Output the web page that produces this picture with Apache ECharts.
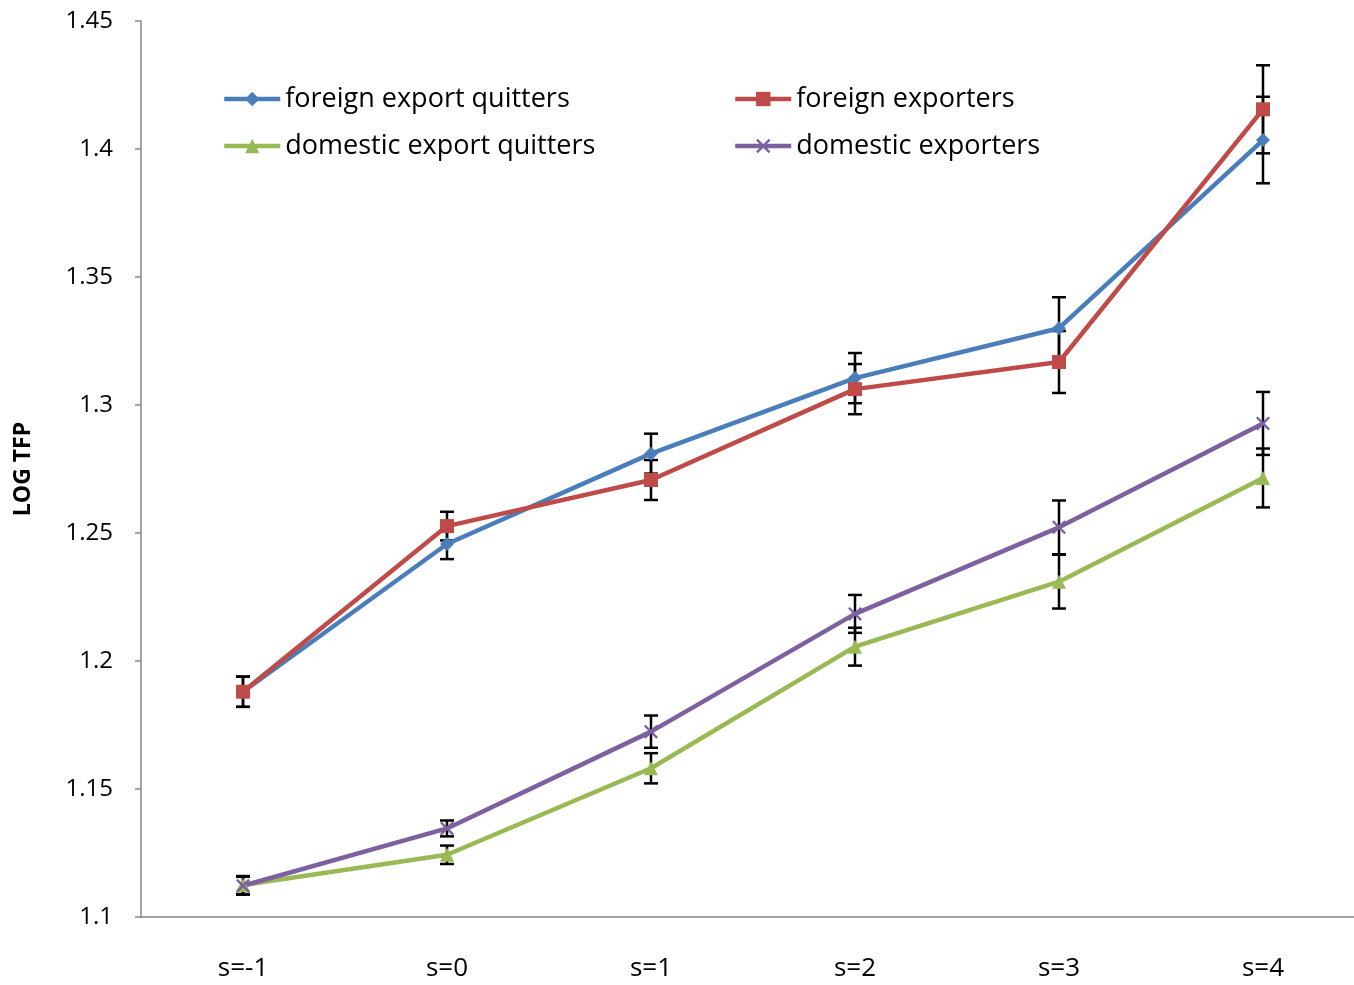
<!DOCTYPE html>
<html>
<head>
<meta charset="utf-8">
<title>LOG TFP</title>
<script src="https://cdn.jsdelivr.net/npm/echarts@6/dist/echarts.min.js"></script>
<style>
  html, body { margin: 0; padding: 0; background: #fff; }
  #chart { width: 1354px; height: 985px; }
</style>
</head>
<body>
<div id="chart"></div>
<script>
// categories and values
const categories = ['s=-1', 's=0', 's=1', 's=2', 's=3', 's=4'];

const foreignQuitters   = [1.188, 1.2457, 1.281, 1.3105, 1.330, 1.4035];
const foreignExporters  = [1.188, 1.2527, 1.2707, 1.3062, 1.3168, 1.4155];
const domesticQuitters  = [1.1125, 1.1243, 1.1581, 1.2056, 1.231, 1.2715];
const domesticExporters = [1.1122, 1.1346, 1.1724, 1.2184, 1.2522, 1.2928];

// half width of the error bars
const foreignQuittersErr   = [0.0059, 0.0059, 0.0078, 0.0098, 0.0121, 0.0169];
const foreignExportersErr  = [0.0059, 0.0056, 0.0078, 0.0098, 0.0121, 0.0172];
const domesticQuittersErr  = [0.0035, 0.0036, 0.0059, 0.0074, 0.0105, 0.0115];
const domesticExportersErr = [0.0035, 0.0031, 0.0063, 0.0074, 0.0105, 0.0123];

const yTicks = { min: 1.1, max: 1.45, interval: 0.05 };

const FONT = '"Open Sans", Lato, sans-serif';
const AXIS_GREY = '#868686';

// filled "x" marker
const crossPath = 'path://M0,1.2 L1.2,0 L5,3.8 L8.8,0 L10,1.2 L6.2,5 L10,8.8 L8.8,10 L5,6.2 L1.2,10 L0,8.8 L3.8,5 Z';

function lineSeries(name, data, color, symbol, size) {
  return {
    name: name,
    type: 'line',
    data: data,
    symbol: symbol,
    symbolSize: size,
    lineStyle: { color: color, width: 4.5 },
    itemStyle: { color: color },
    z: 3
  };
}

function errorSeries(values, errs) {
  const rows = values.map((v, i) => [i, v - errs[i], v + errs[i]]);
  return {
    type: 'custom',
    data: rows,
    z: 2,
    silent: true,
    renderItem: function (params, api) {
      const lo = api.coord([api.value(0), api.value(1)]);
      const hi = api.coord([api.value(0), api.value(2)]);
      const half = 7;
      const style = { stroke: '#000', lineWidth: 2.5, fill: null };
      return {
        type: 'group',
        children: [
          { type: 'line', shape: { x1: lo[0], y1: lo[1], x2: hi[0], y2: hi[1] }, style: style },
          { type: 'line', shape: { x1: hi[0] - half, y1: hi[1], x2: hi[0] + half, y2: hi[1] }, style: style },
          { type: 'line', shape: { x1: lo[0] - half, y1: lo[1], x2: lo[0] + half, y2: lo[1] }, style: style }
        ]
      };
    }
  };
}

const chart = echarts.init(document.getElementById('chart'));

const legendText = { fontFamily: FONT, fontSize: 27, color: '#000', lineHeight: 30 };

function legendColumn(names, left) {
  return {
    data: names,
    orient: 'vertical',
    left: left,
    top: 84,
    padding: 0,
    itemGap: 17,
    itemWidth: 56,
    itemHeight: 18,
    lineStyle: { width: 4.5 },
    textStyle: legendText
  };
}

const option = {
  backgroundColor: '#fff',
  animation: false,
  grid: { left: 141, top: 21, width: 1224, bottom: 68, outerBoundsMode: 'none' },
  legend: [
    legendColumn(['foreign export quitters', 'domestic export quitters'], 222),
    legendColumn(['foreign exporters', 'domestic exporters'], 733)
  ],
  xAxis: {
    type: 'category',
    data: categories,
    axisLine: { lineStyle: { color: AXIS_GREY, width: 1.5 } },
    axisTick: { length: 8, lineStyle: { color: AXIS_GREY, width: 1.5 } },
    axisLabel: { fontFamily: FONT, fontSize: 26, color: '#000', margin: 39 },
    splitLine: { show: false }
  },
  yAxis: {
    type: 'value',
    min: yTicks.min,
    max: yTicks.max,
    interval: yTicks.interval,
    name: 'LOG TFP',
    nameLocation: 'middle',
    nameGap: 106,
    nameTextStyle: { fontFamily: FONT, fontSize: 23, fontWeight: 'bold', color: '#000' },
    axisLine: { show: true, lineStyle: { color: AXIS_GREY, width: 1.5 } },
    axisTick: { show: true, length: 6, lineStyle: { color: AXIS_GREY, width: 1.5 } },
    axisLabel: { fontFamily: FONT, fontSize: 24, color: '#000', margin: 28 },
    splitLine: { show: false }
  },
  series: [
    errorSeries(foreignQuitters, foreignQuittersErr),
    errorSeries(foreignExporters, foreignExportersErr),
    errorSeries(domesticQuitters, domesticQuittersErr),
    errorSeries(domesticExporters, domesticExportersErr),
    lineSeries('foreign export quitters', foreignQuitters, '#4A7EBB', 'diamond', 14),
    lineSeries('foreign exporters', foreignExporters, '#BE4B48', 'rect', 14),
    lineSeries('domestic export quitters', domesticQuitters, '#98B954', 'triangle', 14),
    lineSeries('domestic exporters', domesticExporters, '#7D60A0', crossPath, 14)
  ]
};

chart.setOption(option);
</script>
</body>
</html>
